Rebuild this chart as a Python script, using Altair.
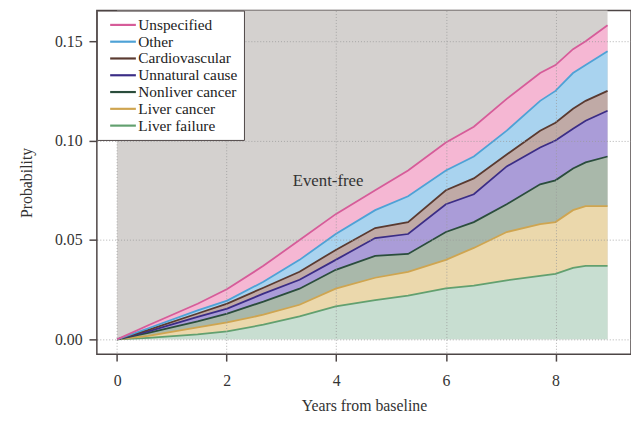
import altair as alt
import pandas as pd

# Time points (years from baseline)
times = [0, 0.57, 1.47, 2.01, 2.67, 3.33, 3.99, 4.71, 5.31, 6.0, 6.51, 7.11, 7.72, 8.0, 8.32, 8.55, 8.95]

# Cumulative (stacked) probabilities at each time point, top boundary of each band
liver_failure = [0, .0008, .0025, .004, .0074, .0116, .0166, .0198, .022, .0256, .027, .0297, .032, .033, .036, .037, .037]
liver_cancer = [0, .0017, .006, .0085, .0124, .0174, .0255, .031, .034, .040, .046, .054, .058, .059, .065, .067, .067]
nonliver_cancer = [0, .0033, .009, .013, .019, .0255, .035, .042, .043, .054, .059, .068, .078, .080, .086, .089, .092]
unnatural = [0, .004, .0113, .0155, .023, .030, .040, .051, .053, .068, .073, .087, .0965, .100, .106, .110, .115]
cardiovascular = [0, .0048, .013, .018, .026, .034, .045, .056, .059, .075, .081, .093, .105, .109, .116, .120, .125]
other = [0, .0056, .0146, .0195, .029, .040, .053, .065, .072, .085, .092, .105, .120, .125, .134, .138, .145]
unspecified = [0, .0071, .0179, .0253, .037, .050, .063, .075, .085, .099, .107, .121, .134, .138, .146, .150, .158]

causes = ["Unspecified", "Other", "Cardiovascular", "Unnatural cause",
          "Nonliver cancer", "Liver cancer", "Liver failure"]
series = [unspecified, other, cardiovascular, unnatural, nonliver_cancer, liver_cancer, liver_failure]
fill_colors = ["#f5b7d3", "#a9d3ef", "#c0aaa6", "#aa9cd8", "#a9b8aa", "#ebd8ac", "#c8ded1"]
line_colors = ["#d65c99", "#4ea2d6", "#5a3a30", "#3b2d86", "#2a4d3c", "#cfa550", "#62a06f"]

rows = []
prev = [0] * len(times)
for name, vals in reversed(list(zip(causes, series))):
    for i, t in enumerate(times):
        rows.append({"t": t, "cause": name, "top": vals[i], "bottom": prev[i]})
    prev = vals
df = pd.DataFrame(rows)

font = "Liberation Serif"
frame = "#4d4545"

xscale = alt.Scale(domain=[-0.369, 9.378], nice=False, zero=False)
yscale = alt.Scale(domain=[-0.00745, 0.1654], nice=False, zero=False)

xaxis = alt.Axis(values=[0, 2, 4, 6, 8], title="Years from baseline", format="d", zindex=1,
                 tickSize=7, labelPadding=12, titlePadding=9)
yaxis = alt.Axis(values=[0, 0.05, 0.10, 0.15], format=".2f", title="Probability", zindex=1,
                 tickSize=8, labelPadding=7, titlePadding=20)

bg = alt.Chart(pd.DataFrame({"t0": [0], "t1": [times[-1]], "y0": [0]})).mark_rect(
    color="#d4d1cf").encode(
    x=alt.X("t0:Q", scale=xscale, axis=xaxis),
    x2="t1:Q",
    y=alt.Y("y0:Q", scale=yscale, axis=yaxis),
    y2=alt.value(0),
)

area = alt.Chart(df).mark_area(opacity=1).encode(
    x=alt.X("t:Q", scale=xscale, axis=xaxis),
    y=alt.Y("top:Q", scale=yscale, axis=yaxis, stack=None),
    y2="bottom:Q",
    fill=alt.Fill("cause:N", scale=alt.Scale(domain=causes, range=fill_colors), legend=None),
)

line = alt.Chart(df).mark_line(strokeWidth=1.8).encode(
    x=alt.X("t:Q", scale=xscale, axis=xaxis),
    y=alt.Y("top:Q", scale=yscale, axis=yaxis, stack=None),
    color=alt.Color("cause:N", scale=alt.Scale(domain=causes, range=line_colors),
                    legend=alt.Legend(title=None, orient="top-left", offset=0,
                                      fillColor="white", strokeColor=frame, padding=6,
                                      symbolType="M-1.86,0H1.86", symbolSize=196,
                                      symbolStrokeWidth=2.2, symbolOffset=12,
                                      labelFont=font, labelFontSize=15.5, labelColor="#222",
                                      labelOffset=7, rowPadding=0, zindex=2)),
)

label = alt.Chart(pd.DataFrame({"t": [3.85], "p": [0.0795], "txt": ["Event-free"]})).mark_text(
    font=font, fontSize=17, color="#333").encode(
    x=alt.X("t:Q", scale=xscale, axis=xaxis),
    y=alt.Y("p:Q", scale=yscale, axis=yaxis),
    text="txt:N",
)

chart = alt.layer(bg, area, line, label).properties(
    width=541, height=348,
    padding={"left": 90, "top": 0, "right": 0, "bottom": 61},
    autosize=alt.AutoSizeParams(type="none"),
).resolve_legend(
    color="independent", fill="independent"
).configure_view(
    stroke=frame, strokeWidth=1.5
).configure_axis(
    labelFont=font, labelFontSize=16, labelColor="#333",
    titleFont=font, titleFontSize=16, titleFontWeight="normal", titleColor="#333",
    tickColor=frame, tickWidth=1.5, domain=False,
    grid=True, gridColor="#9a9a9a", gridDash=[1, 2], gridWidth=1, gridOpacity=0.8,
)

chart.save("out.html", embed_options={"renderer": "svg", "actions": False})
